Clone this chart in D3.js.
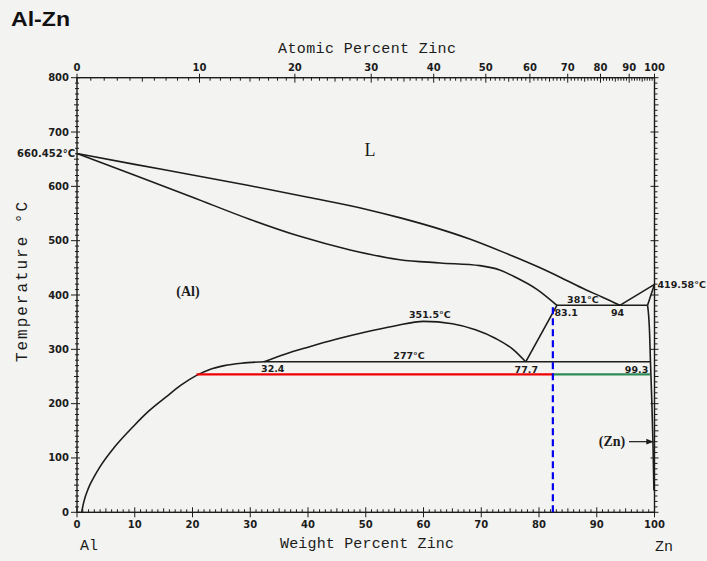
<!DOCTYPE html>
<html lang="en">
<head>
<meta charset="UTF-8">
<title>Al-Zn</title>
<script src="https://d3js.org/d3.v7.min.js"></script>
<style>
    body { margin: 0; background: #f3f3f1; }
    svg { display: block; }
</style>
</head>
<body>
<div id="chart"></div>
<script>
// phase boundaries as [weight % Zn, temperature in C]
var liquidus = [[0, 660.452], [10, 640.5], [20, 621], [30, 601], [40, 580], [50, 558], [56, 542], [62, 524], [68, 503], [74, 478], [80, 451], [84, 431], [88, 410], [91, 396], [94, 381]];
var solidus = [[0, 660.452], [10, 620.5], [20, 580], [30, 539], [38.6, 508], [47.3, 483], [55.9, 465], [62.9, 459], [69.8, 454], [73.2, 446], [75.5, 435], [79.7, 410], [83.1, 381]];
var alSolvus = [[0.8, 0], [1.2, 20], [2, 45], [3, 66], [4, 84], [6.5, 120], [9.75, 158], [12.5, 187], [15.5, 213], [18, 234], [20.7, 252], [23, 263], [25.5, 270], [28.5, 274.5], [32.4, 277]];
var miscGap = [[32.4, 277], [36, 291], [40, 304], [45, 319], [50, 332], [55, 343], [60, 351.5], [65, 347], [69, 336], [72.5, 320], [75.5, 300], [77.7, 277]];
var alZnSolvus = [[77.7, 277], [83.1, 381]];
var znSolvus = [[98.8, 381], [99.15, 330], [99.3, 277], [99.55, 200], [99.75, 120], [99.9, 40]];
var znLiquidus = [[94, 381], [100, 419.58]];
var znSolidus = [[98.8, 381], [100, 419.58]];
var eutectic = [[83.1, 381], [98.8, 381]];
var eutectoid = [[32.4, 277], [99.3, 277]];

// marked-up lines drawn over the diagram
var redLine = [[20.7, 254], [82.4, 254]];
var greenLine = [[82.4, 254], [99.2, 254]];
var blueLine = [[82.4, 0], [82.4, 381]];

// axes
var tempTicks = [0, 100, 200, 300, 400, 500, 600, 700, 800];
var weightTicks = [0, 10, 20, 30, 40, 50, 60, 70, 80, 90, 100];
var atomicTicks = [0, 10, 20, 30, 40, 50, 60, 70, 80, 90, 100];

var width = 707, height = 561;
var ink = "#1c1c1c";
var numFont = "DejaVu Sans, sans-serif";
var typeFont = "'Courier New', 'Liberation Mono', monospace";
var serif = "'Liberation Serif', 'DejaVu Serif', serif";

var svg = d3.select("#chart").append("svg")
    .attr("width", width)
    .attr("height", height);

svg.append("rect").attr("width", width).attr("height", height).attr("fill", "#f3f3f1");

var x = d3.scaleLinear().domain([0, 100]).range([77, 654.5]);
var y = d3.scaleLinear().domain([0, 800]).range([512.3, 77.7]);

// atomic % Zn -> weight % Zn
function atToWt(a) {
    var zn = a * 65.38, al = (100 - a) * 26.98;
    return a === 0 ? 0 : 100 * zn / (zn + al);
}

// frame
svg.append("rect")
    .attr("x", x(0)).attr("y", y(800))
    .attr("width", x(100) - x(0)).attr("height", y(0) - y(800))
    .attr("fill", "none").attr("stroke", ink).attr("stroke-width", 1.4);

var ticks = svg.append("g").attr("stroke", ink).attr("stroke-width", 1);

// left axis ticks
ticks.selectAll(".lt").data(d3.range(0, 801, 10)).enter().append("line")
    .attr("x1", function (d) { return d % 100 === 0 ? x(0) - 6 : (d % 50 === 0 ? x(0) - 3 : x(0) - 2); })
    .attr("x2", function (d) { return d % 100 === 0 ? x(0) + 3 : x(0) + 2; })
    .attr("y1", function (d) { return y(d); })
    .attr("y2", function (d) { return y(d); });

// right axis ticks
ticks.selectAll(".rt").data(d3.range(0, 801, 10)).enter().append("line")
    .attr("x1", function (d) { return d % 100 === 0 ? x(100) - 4 : x(100); })
    .attr("x2", function (d) { return d % 50 === 0 ? x(100) + 4 : x(100) + 3; })
    .attr("y1", function (d) { return y(d); })
    .attr("y2", function (d) { return y(d); });

// bottom axis ticks
ticks.selectAll(".bt").data(d3.range(0, 101, 1)).enter().append("line")
    .attr("x1", function (d) { return x(d); })
    .attr("x2", function (d) { return x(d); })
    .attr("y1", function (d) { return d % 10 === 0 ? y(0) + 5 : y(0); })
    .attr("y2", function (d) { return d % 10 === 0 ? y(0) - 5 : (d % 5 === 0 ? y(0) - 4 : y(0) - 3); });

// top axis ticks (atomic %)
ticks.selectAll(".tt").data(d3.range(0, 100.1, 1)).enter().append("line")
    .attr("x1", function (d) { return x(atToWt(d)); })
    .attr("x2", function (d) { return x(atToWt(d)); })
    .attr("y1", function (d) { return d % 10 === 0 ? y(800) - 4 : y(800); })
    .attr("y2", function (d) { return d % 10 === 0 ? y(800) + 5 : (d % 5 === 0 ? y(800) + 4 : y(800) + 3); });

// tick labels
var labels = svg.append("g")
    .attr("font-family", numFont)
    .attr("font-weight", "bold")
    .attr("font-size", "10px")
    .attr("fill", ink);

labels.selectAll(".yl").data(tempTicks).enter().append("text")
    .attr("x", x(0) - 8)
    .attr("y", function (d) { return y(d) + 3.5; })
    .attr("text-anchor", "end")
    .text(function (d) { return d; });

labels.selectAll(".xl").data(weightTicks).enter().append("text")
    .attr("x", function (d) { return x(d); })
    .attr("y", y(0) + 16)
    .attr("text-anchor", "middle")
    .text(function (d) { return d; });

labels.selectAll(".al").data(atomicTicks).enter().append("text")
    .attr("x", function (d) { return x(atToWt(d)); })
    .attr("y", y(800) - 7)
    .attr("text-anchor", "middle")
    .text(function (d) { return d; });

// phase boundaries
var line = d3.line()
    .x(function (d) { return x(d[0]); })
    .y(function (d) { return y(d[1]); })
    .curve(d3.curveMonotoneX);

var straight = d3.line()
    .x(function (d) { return x(d[0]); })
    .y(function (d) { return y(d[1]); });

var curves = [liquidus, solidus, alSolvus, miscGap, znSolvus];
svg.append("g").selectAll("path").data(curves).enter().append("path")
    .attr("d", line)
    .attr("fill", "none")
    .attr("stroke", ink)
    .attr("stroke-width", 1.6);

var straights = [alZnSolvus, znLiquidus, znSolidus, eutectic, eutectoid];
svg.append("g").selectAll("path").data(straights).enter().append("path")
    .attr("d", straight)
    .attr("fill", "none")
    .attr("stroke", ink)
    .attr("stroke-width", 1.6);

// overlays
svg.append("path").attr("d", straight(redLine))
    .attr("stroke", "#f00000").attr("stroke-width", 2.2).attr("fill", "none");
svg.append("path").attr("d", straight(greenLine))
    .attr("stroke", "#2e8b57").attr("stroke-width", 2.2).attr("fill", "none");
svg.append("path").attr("d", straight(blueLine))
    .attr("stroke", "#0000f0").attr("stroke-width", 2.2).attr("fill", "none")
    .attr("stroke-dasharray", "7,4");

// (Zn) arrow
svg.append("defs").append("marker")
    .attr("id", "arrow")
    .attr("viewBox", "0 0 10 10")
    .attr("refX", 10).attr("refY", 5)
    .attr("markerWidth", 8).attr("markerHeight", 6)
    .attr("orient", "auto")
    .append("path").attr("d", "M0,1 L10,5 L0,9 Z").attr("fill", ink);

svg.append("line")
    .attr("x1", 629).attr("x2", x(100) - 1)
    .attr("y1", y(130)).attr("y2", y(130))
    .attr("stroke", ink).attr("stroke-width", 1.2)
    .attr("marker-end", "url(#arrow)");

// annotations
var notes = [
    { t: "351.5°C", wt: 61.1, T: 351.5, dy: -3, a: "middle" },
    { t: "277°C", wt: 57.5, T: 277, dy: -3, a: "middle" },
    { t: "32.4", wt: 33.9, T: 277, dy: 10.5, a: "middle" },
    { t: "77.7", wt: 77.8, T: 277, dy: 11, a: "middle" },
    { t: "99.3", wt: 96.9, T: 277, dy: 11, a: "middle" },
    { t: "381°C", wt: 87.6, T: 381, dy: -2, a: "middle" },
    { t: "83.1", wt: 84.7, T: 381, dy: 11, a: "middle" },
    { t: "94", wt: 93.6, T: 381, dy: 11, a: "middle" }
];
svg.append("g")
    .attr("font-family", numFont)
    .attr("font-weight", "bold")
    .attr("font-size", "9.5px")
    .attr("fill", ink)
    .selectAll("text").data(notes).enter().append("text")
    .attr("x", function (d) { return x(d.wt); })
    .attr("y", function (d) { return y(d.T) + d.dy; })
    .attr("text-anchor", function (d) { return d.a; })
    .text(function (d) { return d.t; });

svg.append("text")
    .attr("x", x(0) - 2).attr("y", y(660.452) + 3.5)
    .attr("text-anchor", "end")
    .attr("font-family", numFont).attr("font-weight", "bold").attr("font-size", "10px")
    .attr("fill", ink)
    .text("660.452°C");

svg.append("text")
    .attr("x", x(100) + 3).attr("y", y(419.58) + 3.5)
    .attr("font-family", numFont).attr("font-weight", "bold").attr("font-size", "9.5px")
    .attr("fill", ink)
    .text("419.58°C");

// phase field labels
svg.append("text").attr("x", 370).attr("y", 156)
    .attr("text-anchor", "middle")
    .attr("font-family", serif).attr("font-size", "18px").attr("fill", ink)
    .text("L");

svg.append("text").attr("x", 188).attr("y", 296)
    .attr("text-anchor", "middle")
    .attr("font-family", serif).attr("font-weight", "bold").attr("font-size", "14px").attr("fill", ink)
    .text("(Al)");

svg.append("text").attr("x", 612).attr("y", 446)
    .attr("text-anchor", "middle")
    .attr("font-family", serif).attr("font-weight", "bold").attr("font-size", "14px").attr("fill", ink)
    .text("(Zn)");

// axis titles
svg.append("text")
    .attr("x", 278).attr("y", 53)
    .attr("font-family", typeFont).attr("font-size", "15px").attr("fill", ink)
    .attr("textLength", 178).attr("lengthAdjust", "spacing")
    .text("Atomic Percent Zinc");

svg.append("text")
    .attr("x", 280).attr("y", 548)
    .attr("font-family", typeFont).attr("font-size", "15px").attr("fill", ink)
    .attr("textLength", 174).attr("lengthAdjust", "spacing")
    .text("Weight Percent Zinc");

svg.append("text")
    .attr("transform", "translate(27,362) rotate(-90)")
    .attr("font-family", typeFont).attr("font-size", "16px").attr("fill", ink)
    .attr("textLength", 160).attr("lengthAdjust", "spacing")
    .text("Temperature °C");

svg.append("text")
    .attr("x", 80).attr("y", 550)
    .attr("font-family", typeFont).attr("font-size", "15px").attr("fill", ink)
    .text("Al");

svg.append("text")
    .attr("x", 655).attr("y", 551)
    .attr("font-family", typeFont).attr("font-size", "15px").attr("fill", ink)
    .text("Zn");

// title
svg.append("text")
    .attr("x", 11).attr("y", 26)
    .attr("font-family", "'Liberation Sans', Arial, sans-serif")
    .attr("font-weight", "bold").attr("font-size", "21px").attr("fill", "#111")
    .attr("textLength", 59).attr("lengthAdjust", "spacingAndGlyphs")
    .text("Al-Zn");
</script>
</body>
</html>
